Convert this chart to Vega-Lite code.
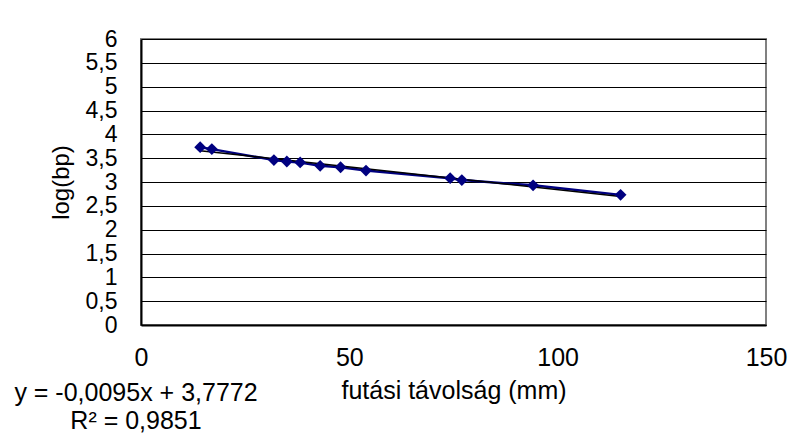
{
  "$schema": "https://vega.github.io/schema/vega-lite/v6.json",
  "width": 625,
  "height": 286,
  "autosize": {"type": "none"},
  "padding": {"left": 141, "top": 39, "right": 44, "bottom": 111},
  "background": "white",
  "config": {
    "font": "Liberation Sans",
    "view": {"stroke": "#808080", "strokeWidth": 2}
  },
  "title": {
    "text": ["y = -0,0095x + 3,7772", "R² = 0,9851"],
    "orient": "bottom",
    "anchor": "start",
    "frame": "group",
    "align": "center",
    "fontSize": 25,
    "fontWeight": "normal",
    "color": "black",
    "font": "Liberation Sans",
    "lineHeight": 28,
    "dx": -5,
    "offset": -22
  },
  "data": {
    "values": [
      {"dist": 14.2, "logbp": 3.73},
      {"dist": 17.0, "logbp": 3.69},
      {"dist": 31.9, "logbp": 3.46},
      {"dist": 35.0, "logbp": 3.43},
      {"dist": 38.2, "logbp": 3.41},
      {"dist": 43.0, "logbp": 3.34},
      {"dist": 47.9, "logbp": 3.31},
      {"dist": 54.0, "logbp": 3.24},
      {"dist": 74.2, "logbp": 3.08},
      {"dist": 77.0, "logbp": 3.04},
      {"dist": 94.1, "logbp": 2.93},
      {"dist": 115.1, "logbp": 2.73}
    ]
  },
  "encoding": {
    "x": {
      "field": "dist",
      "type": "quantitative",
      "scale": {"domain": [0, 150], "nice": false, "zero": false},
      "axis": {
        "values": [0, 50, 100, 150],
        "grid": false,
        "ticks": false,
        "domainColor": "black",
        "domainWidth": 2,
        "labelFontSize": 25,
        "labelColor": "black",
        "labelPadding": 20,
        "labelFont": "Liberation Sans",
        "labelOverlap": false,
        "labelBound": false,
        "labelFlush": false,
        "title": "futási távolság (mm)",
        "titleFontSize": 25,
        "titleFontWeight": "normal",
        "titleColor": "black",
        "titleFont": "Liberation Sans",
        "titlePadding": 8
      }
    },
    "y": {
      "field": "logbp",
      "type": "quantitative",
      "scale": {"domain": [0, 6], "nice": false, "zero": false},
      "axis": {
        "values": [0, 0.5, 1, 1.5, 2, 2.5, 3, 3.5, 4, 4.5, 5, 5.5, 6],
        "grid": true,
        "gridColor": "black",
        "gridWidth": 1,
        "gridOpacity": 1,
        "ticks": false,
        "domainColor": "black",
        "domainWidth": 2,
        "labelExpr": "replace(format(datum.value, ''), '.', ',')",
        "labelFontSize": 23,
        "labelColor": "black",
        "labelPadding": 24,
        "labelFont": "Liberation Sans",
        "labelOverlap": false,
        "labelBound": false,
        "labelFlush": false,
        "title": "log(bp)",
        "titleFontSize": 24,
        "titleFontWeight": "normal",
        "titleColor": "black",
        "titleFont": "Liberation Sans",
        "titlePadding": 12
      }
    }
  },
  "layer": [
    {"mark": {"type": "line", "color": "#000080", "strokeWidth": 2.5}},
    {
      "transform": [{"regression": "logbp", "on": "dist"}],
      "mark": {"type": "line", "color": "black", "strokeWidth": 1.5}
    },
    {
      "mark": {"type": "point", "shape": "diamond", "filled": true, "color": "#000080", "size": 140, "opacity": 1}
    }
  ]
}
